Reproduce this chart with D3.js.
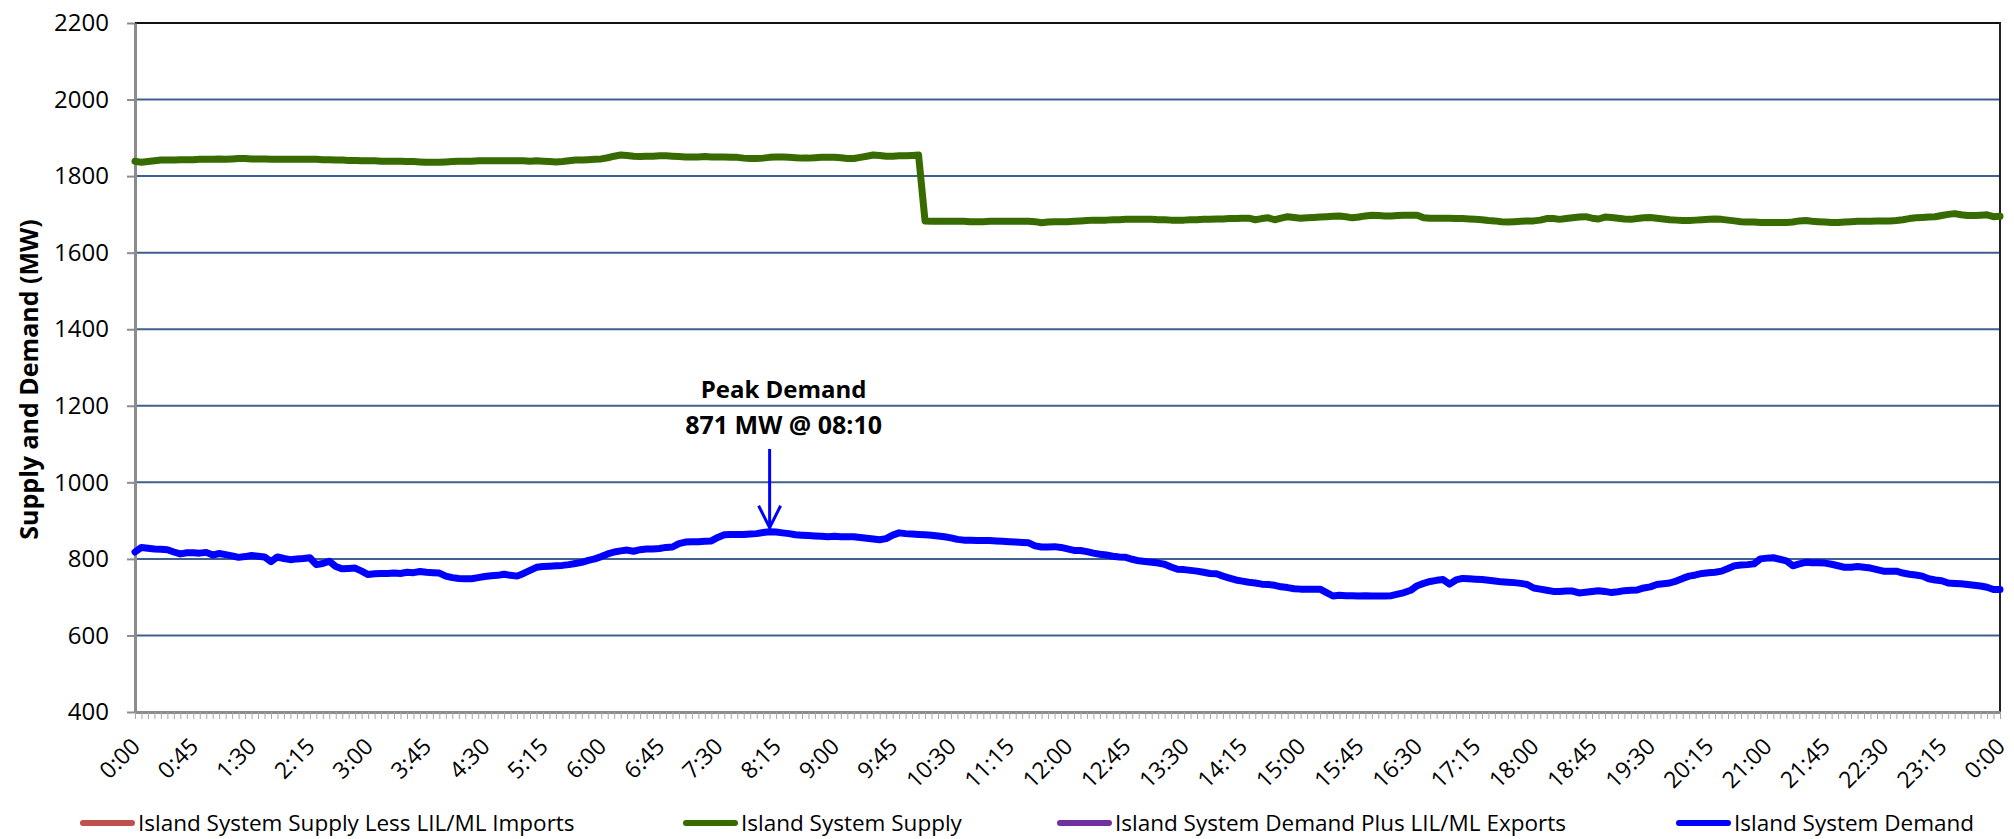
<!DOCTYPE html>
<html><head><meta charset="utf-8">
<script src="https://cdn.jsdelivr.net/npm/d3@7"></script>
<style>
html,body{margin:0;padding:0;background:#fff;}
svg{display:block;}
text{font-family:"Open Sans",sans-serif;fill:#000;}
</style></head><body>
<svg id="chart" width="2014" height="839"></svg>
<script>
// ---------- DATA ----------
const xTickLabels = ["0:00","0:45","1:30","2:15","3:00","3:45","4:30","5:15","6:00","6:45","7:30","8:15","9:00","9:45","10:30","11:15","12:00","12:45","13:30","14:15","15:00","15:45","16:30","17:15","18:00","18:45","19:30","20:15","21:00","21:45","22:30","23:15","0:00"];
const yTicks = [400,600,800,1000,1200,1400,1600,1800,2000,2200];
const yTitle = "Supply and Demand (MW)";
const seriesNames = ["Island System Supply Less LIL/ML Imports","Island System Supply","Island System Demand Plus LIL/ML Exports","Island System Demand"];
const seriesColors = ["#c0504d","#376b00","#7030a0","#0000ff"];

// 5-minute values, 0:00 .. 24:00 (MW)
const supplyLessImports = [];   // no visible trace in the reference
const supply = [
1839,1836,1838,1840,1842,1842,1842,1843,1843,1843,1844,1844,
1844,1845,1844,1845,1846,1846,1845,1845,1845,1844,1844,1844,
1844,1844,1844,1844,1844,1843,1843,1842,1842,1841,1841,1840,
1840,1840,1839,1839,1839,1839,1838,1838,1837,1836,1836,1836,
1837,1838,1839,1839,1839,1840,1840,1840,1840,1840,1840,1840,
1840,1839,1840,1839,1838,1837,1838,1840,1842,1842,1843,1844,
1845,1848,1852,1855,1854,1852,1851,1852,1852,1853,1853,1852,
1851,1850,1850,1850,1851,1850,1850,1850,1849,1849,1847,1846,
1846,1847,1849,1850,1850,1849,1848,1847,1847,1848,1849,1849,
1849,1848,1846,1846,1849,1852,1855,1854,1852,1852,1853,1853,
1854,1855,1683,1682,1682,1682,1682,1682,1682,1681,1681,1681,
1682,1682,1682,1682,1682,1682,1682,1681,1678,1680,1681,1681,
1681,1682,1683,1684,1685,1685,1685,1686,1686,1687,1687,1687,
1687,1687,1686,1686,1685,1685,1685,1686,1686,1687,1687,1688,
1688,1689,1689,1690,1690,1686,1689,1691,1686,1690,1694,1692,
1690,1691,1692,1693,1694,1695,1696,1694,1691,1693,1696,1698,
1697,1696,1696,1697,1698,1698,1698,1691,1690,1690,1690,1690,
1689,1689,1688,1687,1686,1684,1683,1681,1680,1681,1682,1683,
1683,1685,1689,1689,1687,1689,1691,1693,1694,1690,1688,1693,
1692,1690,1688,1687,1689,1691,1692,1690,1688,1686,1685,1684,
1684,1685,1686,1687,1688,1687,1685,1683,1681,1680,1680,1679,
1679,1679,1679,1679,1680,1683,1684,1682,1681,1680,1679,1679,
1680,1681,1682,1682,1682,1683,1683,1683,1684,1686,1689,1691,
1692,1693,1694,1697,1700,1702,1699,1697,1697,1698,1699,1694,
1695];
const demandPlusExports = [];   // no visible trace in the reference
const demand = [
818,830,828,826,825,824,818,813,816,816,815,817,
810,814,811,808,804,806,809,807,805,793,805,801,
798,800,801,803,785,788,794,780,774,775,776,768,
759,761,762,762,763,762,765,764,767,765,764,763,
755,751,749,748,748,751,754,756,757,760,757,755,
762,770,778,780,781,782,783,785,788,791,796,800,
806,813,818,821,823,820,824,826,826,827,830,831,
840,844,845,845,846,847,856,863,864,864,864,865,
866,869,871,870,868,866,863,862,861,860,859,858,
859,858,858,858,856,854,852,850,853,862,868,866,
865,864,863,862,860,858,855,851,849,849,848,848,
848,847,846,845,844,843,842,834,831,831,832,830,
826,822,822,819,815,812,810,807,805,804,799,795,
793,791,789,786,779,773,772,770,768,765,762,761,
755,750,745,742,739,737,734,733,731,727,725,722,
721,721,721,721,712,703,705,704,704,703,704,703,
703,703,704,708,712,718,730,736,741,744,746,734,
745,749,748,747,746,744,742,740,739,738,736,733,
724,721,718,715,715,716,716,711,713,715,717,715,
712,714,717,718,719,724,727,733,735,737,742,749,
755,758,762,764,765,768,775,782,784,785,787,800,
802,803,799,795,782,787,791,790,790,789,786,782,
778,778,780,778,776,772,768,768,768,763,760,758,
755,748,745,743,737,736,735,733,731,729,726,720,
720];
const peakLines = ["Peak Demand","871 MW @ 08:10"];
const labelEvery = 9; // one label every 45 minutes

// ---------- LAYOUT ----------
const W = 2014, H = 839;
const L = 135, R = 2000, T = 23, B = 712;
const svg = d3.select("#chart");
svg.append("rect").attr("width", W).attr("height", H).attr("fill", "#fff");

const x = d3.scaleLinear().domain([0, demand.length - 1]).range([L, R]);
const y = d3.scaleLinear().domain([yTicks[0], yTicks[yTicks.length - 1]]).range([B, T]);

// gridlines
svg.append("g").selectAll("line")
  .data(yTicks.filter(v => v > yTicks[0] && v < yTicks[yTicks.length - 1]))
  .join("line")
  .attr("x1", L).attr("x2", R)
  .attr("y1", d => y(d)).attr("y2", d => y(d))
  .attr("stroke", "#3f5f8e").attr("stroke-width", 2);

// top & right border
svg.append("line").attr("x1", L).attr("x2", R + 1).attr("y1", y(2200)).attr("y2", y(2200))
  .attr("stroke", "#111").attr("stroke-width", 2);
svg.append("line").attr("x1", R).attr("x2", R).attr("y1", T).attr("y2", B)
  .attr("stroke", "#222").attr("stroke-width", 2);

// y axis
const gy = svg.append("g").attr("transform", `translate(${L},0)`)
  .call(d3.axisLeft(y).tickValues(yTicks).tickFormat(d3.format("d"))
    .tickSize(8).tickSizeOuter(0).tickPadding(18));
gy.select(".domain").attr("stroke", "#8c8c8c").attr("stroke-width", 3);
gy.selectAll(".tick line").attr("stroke", "#8c8c8c").attr("stroke-width", 2);
gy.selectAll(".tick text").attr("font-size", 24).attr("font-family", "Open Sans").attr("fill", "#000");

// x axis
const gx = svg.append("g").attr("transform", `translate(0,${B})`)
  .call(d3.axisBottom(x).tickValues(d3.range(0, demand.length)).tickSize(7).tickSizeOuter(0)
    .tickFormat(i => i % labelEvery === 0 ? xTickLabels[i / labelEvery] : ""));
gx.select(".domain").attr("stroke", "#8c8c8c").attr("stroke-width", 3);
gx.selectAll(".tick line").attr("stroke", "#a6a6a6").attr("stroke-width", 1);
gx.selectAll(".tick text")
  .attr("font-size", 23).attr("font-family", "Open Sans").attr("fill", "#000")
  .attr("text-anchor", "end").attr("y", 0).attr("dy", 0)
  .attr("transform", "translate(6,36) rotate(-45)");

// y title
svg.append("text")
  .attr("transform", `translate(38,${(T + B) / 2 + 12}) rotate(-90)`)
  .attr("text-anchor", "middle").attr("font-weight", "bold").attr("font-size", 25)
  .text(yTitle);

// series
const allSeries = [supplyLessImports, supply, demandPlusExports, demand];
const line = d3.line().x((d, i) => x(i)).y(d => y(d));
allSeries.forEach((s, k) => {
  if (!s.length) return;
  svg.append("path").datum(s)
    .attr("fill", "none").attr("stroke", seriesColors[k]).attr("stroke-width", 7)
    .attr("stroke-linejoin", "round").attr("stroke-linecap", "round")
    .attr("d", line);
});

// peak annotation
const pi = d3.maxIndex(demand);
const ax = x(pi);
const tipY = y(demand[pi]) - 4;
svg.append("text").attr("x", ax + 14).attr("y", 398).attr("text-anchor", "middle")
  .attr("font-weight", "bold").attr("font-size", 24).text(peakLines[0]);
svg.append("text").attr("x", ax + 14).attr("y", 434).attr("text-anchor", "middle")
  .attr("font-weight", "bold").attr("font-size", 25).text(peakLines[1]);
svg.append("line").attr("x1", ax).attr("x2", ax).attr("y1", 449).attr("y2", tipY)
  .attr("stroke", "#0000ff").attr("stroke-width", 3);
svg.append("polyline")
  .attr("points", `${ax - 11},${tipY - 22} ${ax},${tipY} ${ax + 11},${tipY - 22}`)
  .attr("fill", "none").attr("stroke", "#0000ff").attr("stroke-width", 3)
  .attr("stroke-linejoin", "miter");

// legend
const legendX = [80, 683, 1057, 1676];
const lg = svg.append("g").attr("transform", "translate(0,823)");
seriesNames.forEach((name, k) => {
  const g = lg.append("g").attr("transform", `translate(${legendX[k]},0)`);
  g.append("line").attr("x1", 3).attr("x2", 52).attr("y1", 0).attr("y2", 0)
    .attr("stroke", seriesColors[k]).attr("stroke-width", 6).attr("stroke-linecap", "round");
  g.append("text").attr("x", 58).attr("y", 8).attr("font-size", 22.5).text(name);
});
</script>
</body></html>
